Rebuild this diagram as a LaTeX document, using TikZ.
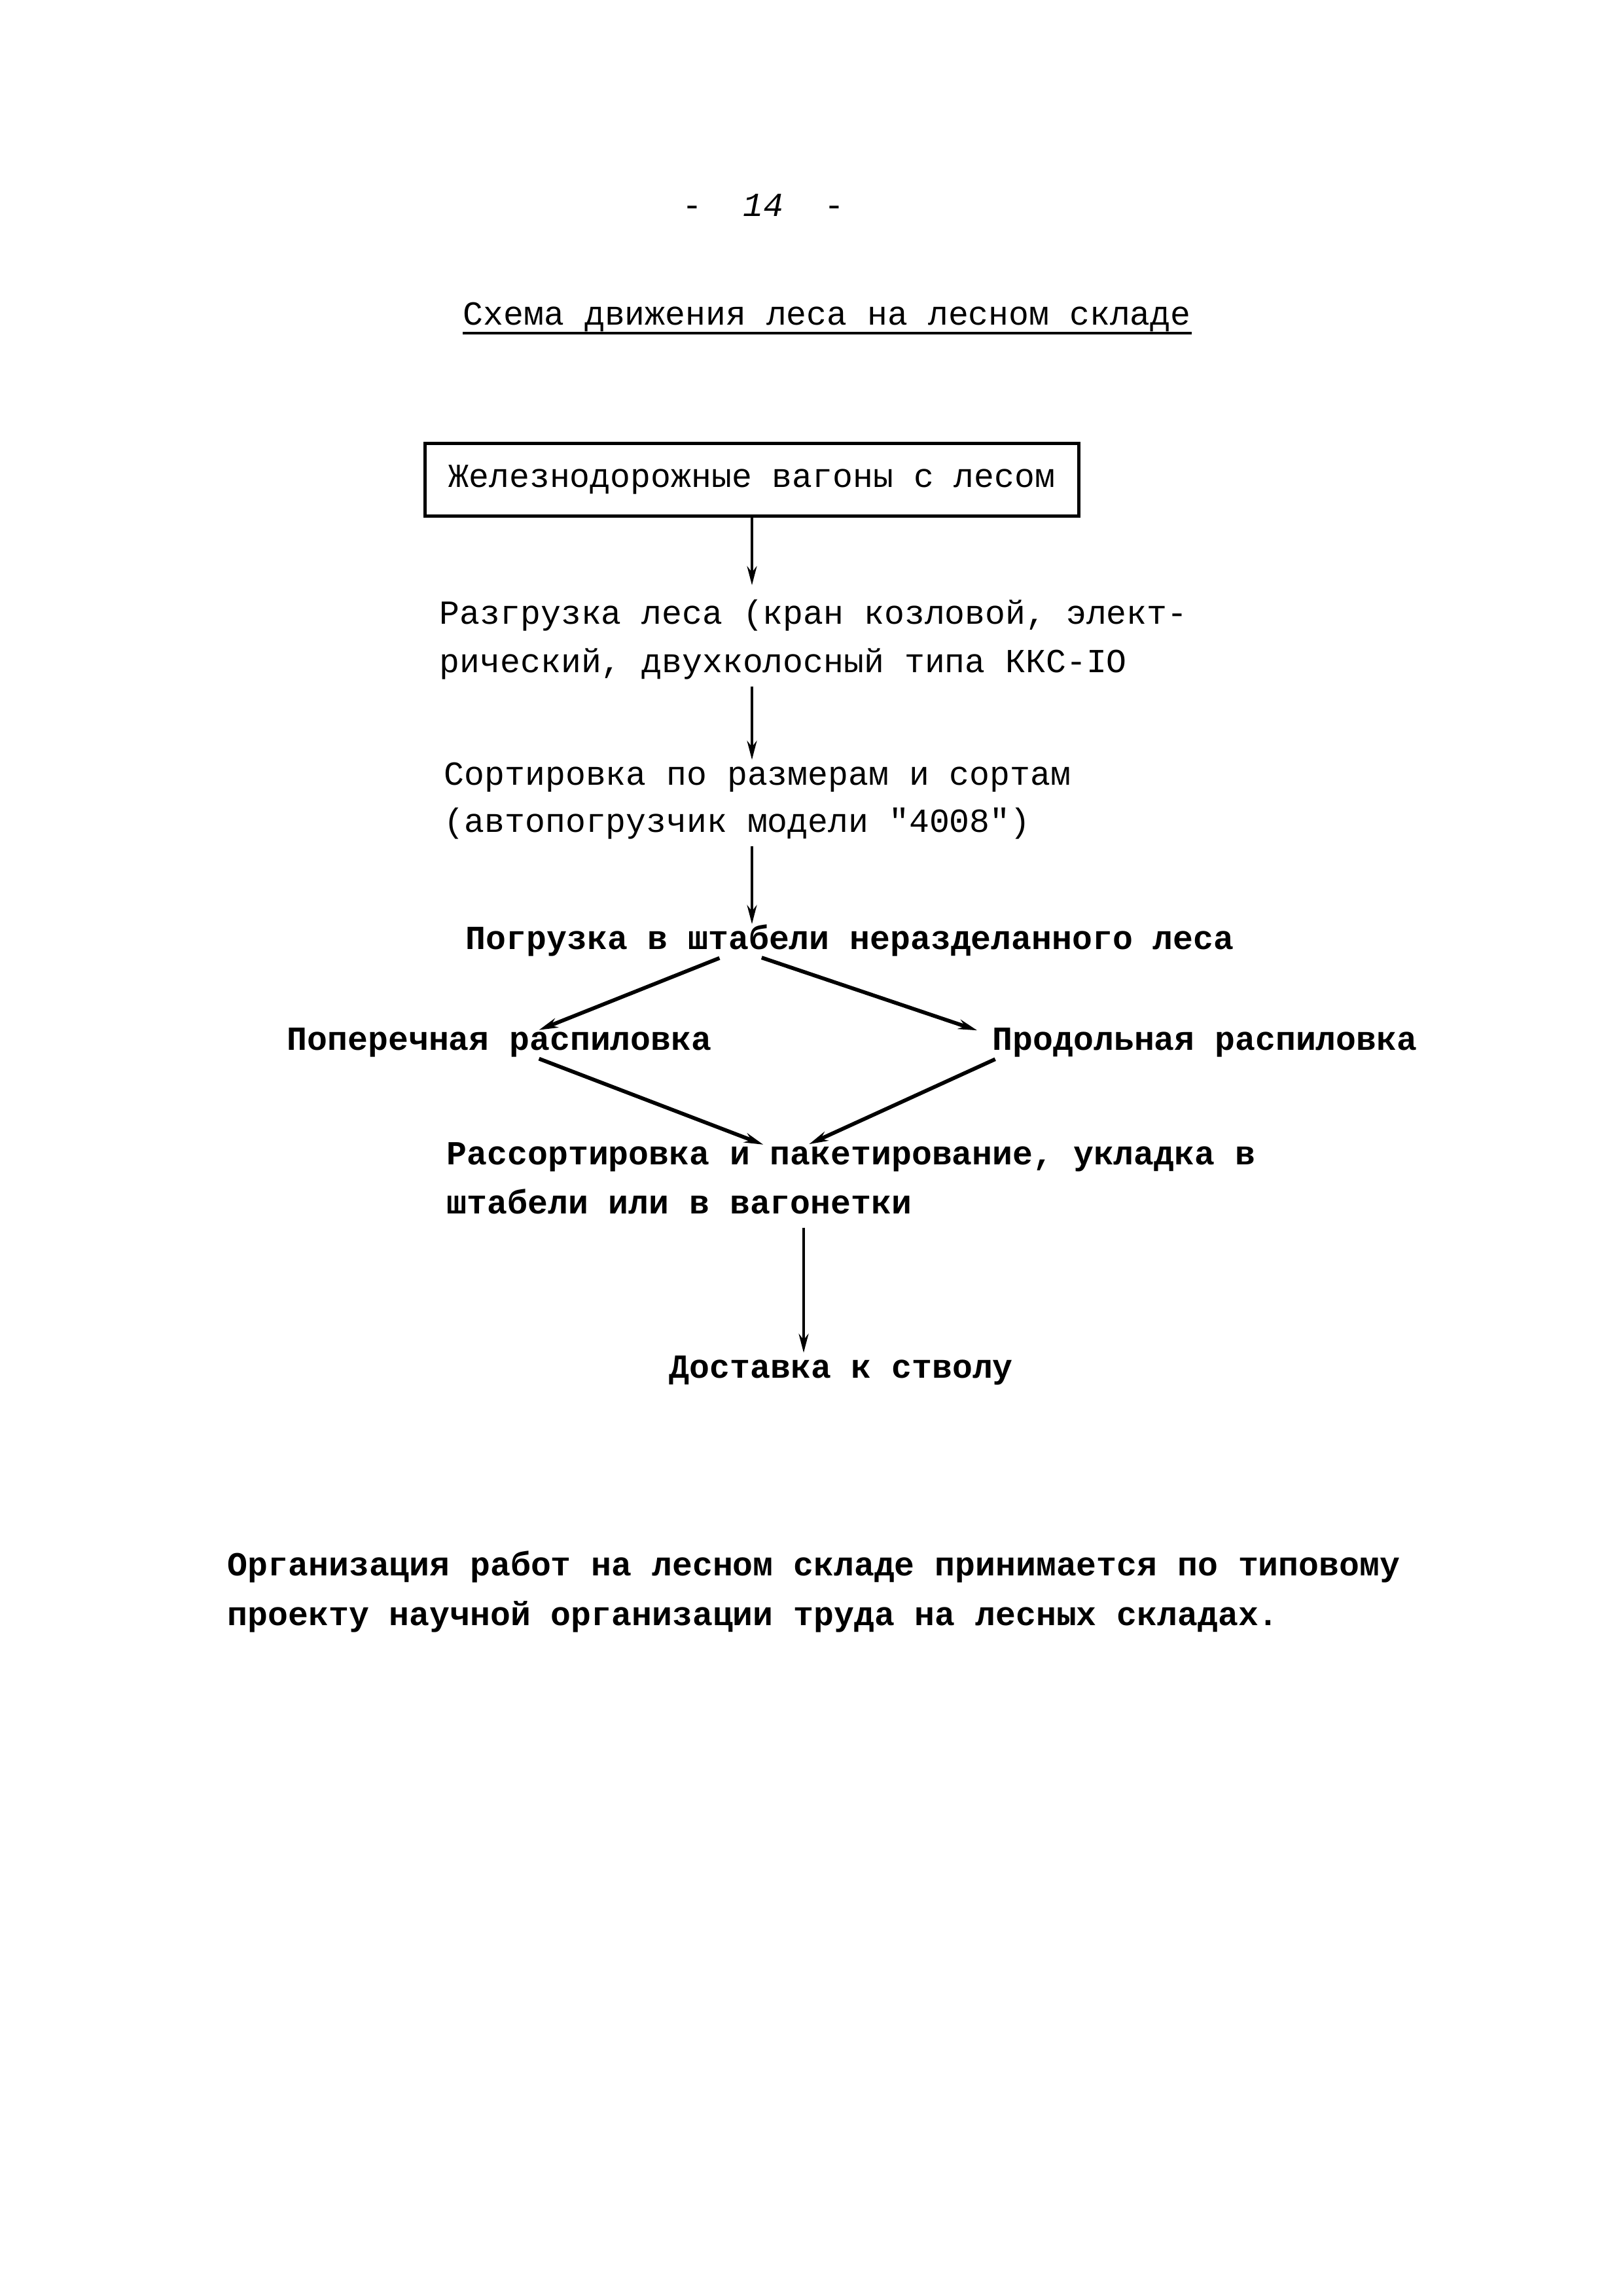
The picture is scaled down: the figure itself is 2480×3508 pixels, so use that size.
\documentclass[tikz,border=0pt]{standalone}
\usepackage{fontspec}
\setmainfont{Liberation Mono}
\usetikzlibrary{arrows.meta,calc}

\tikzset{
  txt/.style={anchor=base west, inner sep=0pt, text height=0.6em, text depth=0.2em,
    font=\fontsize{12.4}{15}\selectfont},
  btxt/.style={txt, font=\fontsize{12.4}{15}\selectfont\bfseries},
  flow/.style={-{Stealth[length=7pt,width=3.6pt]}, line width=1pt, shorten <=3pt, shorten >=3pt},
  slant/.style={flow, line width=1.4pt}
}

\begin{document}
\begin{tikzpicture}[x=0.08467mm, y=-0.08467mm]
\useasboundingbox (0,0) rectangle (2480,3508);

\node[txt] (page) at (1042,330) {-~~\textit{14}~~-};
\node[txt, text depth=0.3em] (title) at (707,496) {Схема движения леса на лесном складе};
\draw[line width=0.9pt] (title.south west) -- (title.south east);

\node[draw, line width=1.2pt, minimum width=240.5pt, minimum height=26.9pt,
  font=\fontsize{12.4}{15}\selectfont] (wagons) at (1149,733) {Железнодорожные вагоны с лесом};

\node[txt] (unload1) at (671,953) {Разгрузка леса (кран козловой, элект-};
\node[txt] (unload2) at (671,1027) {рический, двухколосный типа ККС-IO};
\node[txt] (sort1) at (678,1199) {Сортировка по размерам и сортам};
\node[txt] (sort2) at (678,1271) {(автопогрузчик модели \textquotedbl 4008\textquotedbl)};
\node[btxt] (load) at (711,1450) {Погрузка в штабели неразделанного леса};
\node[btxt] (cross) at (438,1604) {Поперечная распиловка};
\node[btxt] (rip) at (1516,1604) {Продольная распиловка};
\node[btxt] (pack1) at (682,1779) {Рассортировка и пакетирование, укладка в};
\node[btxt] (pack2) at (682,1854) {штабели или в вагонетки};
\node[btxt] (ship) at (1022,2105) {Доставка к стволу};

\node[btxt] (note1) at (347,2407) {Организация работ на лесном складе принимается по типовому};
\node[btxt] (note2) at (347,2483) {проекту научной организации труда на лесных складах.};

% connectors
\draw[flow, shorten <=0pt, shorten >=8pt] (wagons.south) -- (wagons.south |- unload1.north);
\draw[flow] (wagons.south |- unload2.south) -- (wagons.south |- sort1.north);
\draw[flow] (wagons.south |- sort2.south) -- (wagons.south |- load.north);
\draw[slant] ($(load.south west)+(400,0)$) -- ($(cross.north west)+(374,0)$);
\draw[slant] ($(load.south west)+(441,0)$) -- ($(rip.north west)+(-11,0)$);
\draw[slant] ($(cross.south west)+(374,0)$) -- ($(pack1.north west)+(496,0)$);
\draw[slant] ($(rip.south west)+(16,0)$) -- ($(pack1.north west)+(543,0)$);
\coordinate (drop) at ($(pack2.south west)+(546,0)$);
\draw[flow] (drop) -- (drop |- ship.north);
\end{tikzpicture}
\end{document}
